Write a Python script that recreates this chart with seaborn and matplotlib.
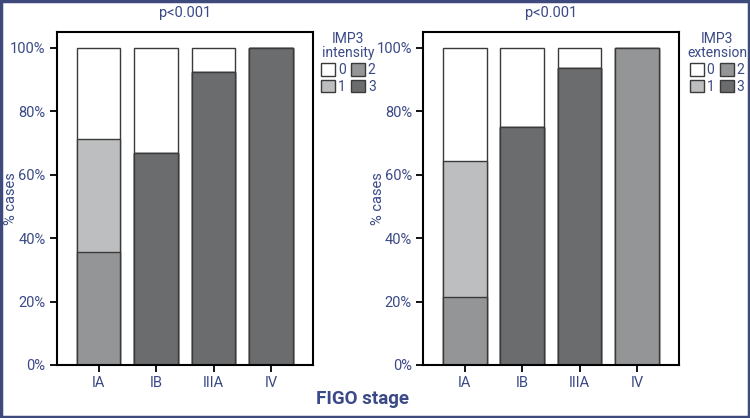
import matplotlib
matplotlib.use("Agg")
import matplotlib.pyplot as plt
import seaborn as sns
import pandas as pd
import numpy as np
from matplotlib.patches import Patch, Rectangle

stages = ["IA", "IB", "IIIA", "IV"]
levels = ["0", "1", "2", "3"]

# % cases per IMP3 intensity level
intensity_0 = [28.6, 33.3, 7.7, 0.0]
intensity_1 = [35.7, 0.0, 0.0, 0.0]
intensity_2 = [35.7, 0.0, 0.0, 0.0]
intensity_3 = [0.0, 66.7, 92.3, 100.0]

# % cases per IMP3 extension level
extension_0 = [35.7, 25.0, 6.3, 0.0]
extension_1 = [42.9, 0.0, 0.0, 0.0]
extension_2 = [21.4, 0.0, 0.0, 100.0]
extension_3 = [0.0, 75.0, 93.7, 0.0]

titles = ["p<0.001", "p<0.001"]
legend_titles = ["IMP3\nintensity", "IMP3\nextension"]
yticks = [0, 20, 40, 60, 80, 100]
ytick_labels = ["0%", "20%", "40%", "60%", "80%", "100%"]

sns.set_theme(style="white")
plt.rcParams["font.family"] = ["Roboto", "DejaVu Sans"]

NAVY = "#3b4a86"
EDGE = "#3a3a3a"
colors = {"0": "#ffffff", "1": "#bdbebf", "2": "#949596", "3": "#6b6c6e"}

fig = plt.figure(figsize=(7.5, 4.18), dpi=100)
axL = fig.add_axes([0.0756, 0.1268, 0.3417, 0.7966])
axR = fig.add_axes([0.564, 0.1268, 0.3413, 0.7966])

datasets = [
    [intensity_0, intensity_1, intensity_2, intensity_3],
    [extension_0, extension_1, extension_2, extension_3],
]

# stacking order bottom->top: 3, 2, 1, 0
stack_order = ["3", "2", "1", "0"]

for ax, data, title, ltitle in zip([axL, axR], datasets, titles, legend_titles):
    vals = dict(zip(levels, [np.array(d) for d in data]))
    cum = np.zeros(len(stages))
    cums = {}
    for lev in stack_order:
        cum = cum + vals[lev]
        cums[lev] = cum.copy()
    # draw from top of stack down so lower segments overlay
    for lev in reversed(stack_order):
        df = pd.DataFrame({"stage": stages, "value": cums[lev]})
        sns.barplot(data=df, x="stage", y="value", order=stages, ax=ax,
                    color=colors[lev], saturation=1, width=0.76,
                    edgecolor=EDGE, linewidth=1.0, errorbar=None)
    ax.set_ylim(0, 105)
    ax.set_xlim(-0.73, 3.73)
    ax.set_yticks(yticks)
    ax.set_yticklabels(ytick_labels)
    ax.set_xlabel("")
    ax.set_ylabel("% cases", color=NAVY, fontsize=10.5)
    ax.yaxis.set_label_coords(-0.15, 0.5)
    ax.set_title(title, color=NAVY, fontsize=10.5, pad=11)
    for s in ax.spines.values():
        s.set_visible(True)
        s.set_color("black")
        s.set_linewidth(1.5)
    ax.tick_params(axis="both", which="both", direction="out", length=5,
                   width=1.3, color="black", labelcolor=NAVY, labelsize=10.5,
                   left=True, bottom=True, pad=3)
    handles = [Patch(facecolor=colors[l], edgecolor=EDGE, linewidth=1.0) for l in levels]
    leg = ax.legend(handles, levels, title=ltitle, ncol=2, loc="upper left",
                    bbox_to_anchor=(1.005, 1.02), frameon=False,
                    handlelength=1.0, handleheight=1.0, handletextpad=0.2,
                    columnspacing=0.4, labelspacing=0.2, borderpad=0.0,
                    fontsize=10, title_fontsize=10)
    leg.get_title().set_color(NAVY)
    leg.get_title().set_multialignment("center")
    leg.get_title().set_linespacing(1.0)
    for t in leg.get_texts():
        t.set_color(NAVY)

fig.text(0.484, 0.045, "FIGO stage", ha="center", va="center",
         color=NAVY, fontsize=13.5, fontweight="bold")

fig.patches.append(Rectangle((0.0013, 0.0024), 0.9974, 0.9952, transform=fig.transFigure,
                             fill=False, edgecolor="#3f4a7c", linewidth=2.5))

fig.savefig("out.png", dpi=100)
